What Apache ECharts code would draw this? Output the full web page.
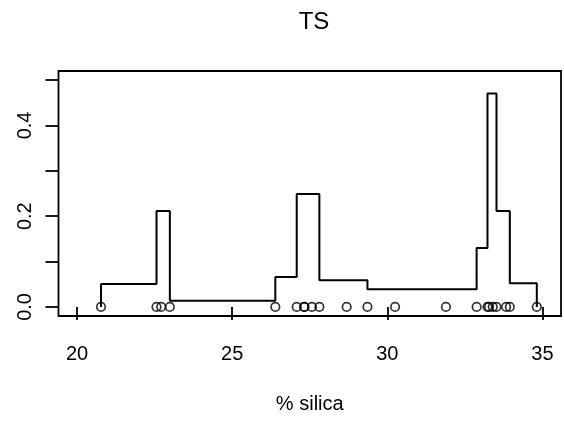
<!DOCTYPE html>
<html>
<head>
<meta charset="utf-8">
<script src="https://cdn.jsdelivr.net/npm/echarts@6/dist/echarts.min.js"></script>
<style>
html,body{margin:0;padding:0;background:#fff;}
#chart{width:564px;height:422px;}
</style>
</head>
<body>
<div id="chart"></div>
<script>
// Observations (% silica), drawn as open circles on y = 0
var silica = [20.77, 22.56, 22.71, 22.99, 26.39, 27.08, 27.32, 27.33, 27.57, 27.81, 28.69,
              29.36, 30.25, 31.89, 32.88, 33.23, 33.28, 33.40, 33.52, 33.83, 33.95, 34.82];
// Step-function breakpoints and the density level on each interval
var knots  = [20.77, 22.56, 22.99, 26.39, 27.08, 27.81, 29.36, 32.88, 33.23, 33.52, 33.95, 34.82];
var levels = [0.0508, 0.2114, 0.0134, 0.0659, 0.2491, 0.0587, 0.0387, 0.1299, 0.4702, 0.2114, 0.0523];
// Axis ticks and labels
var xTicks = [20, 25, 30, 35];
var yTicks = [0, 0.1, 0.2, 0.3, 0.4, 0.5];
var yLabels = [0, 0.2, 0.4];
var titleText = 'TS';
var xName = '% silica';

var stepData = [[knots[0], 0]];
for (var i = 0; i < levels.length; i++) {
  stepData.push([knots[i], levels[i]]);
  stepData.push([knots[i + 1], levels[i]]);
}
stepData.push([knots[knots.length - 1], 0]);

var pts = silica.map(function (v) { return [v, 0]; });

var FONT = 'Liberation Sans, Arial, Helvetica, sans-serif';
var chart = echarts.init(document.getElementById('chart'), null, {renderer: 'canvas'});
chart.setOption({
  animation: false,
  backgroundColor: '#fff',
  title: {
    text: titleText,
    left: 309, top: 5, textAlign: 'center',
    textStyle: {fontFamily: FONT, fontSize: 24, fontWeight: 'normal', color: '#000'}
  },
  grid: {
    left: 58.5, top: 71, width: 502.5, height: 245,
    show: true, borderColor: '#000', borderWidth: 1.8, backgroundColor: 'transparent'
  },
  xAxis: {
    type: 'value', min: 19.4, max: 35.6,
    name: xName, nameLocation: 'middle', nameGap: 78,
    nameTextStyle: {fontFamily: FONT, fontSize: 20, color: '#000'},
    axisLine: {show: false},
    splitLine: {show: false},
    axisTick: {show: true, length: 13, customValues: xTicks, lineStyle: {color: '#000', width: 1.8}},
    axisLabel: {show: true, customValues: xTicks, margin: 28,
      fontFamily: FONT, fontSize: 20, color: '#000'}
  },
  yAxis: {
    type: 'value', min: -0.02, max: 0.52,
    axisLine: {show: false},
    splitLine: {show: false},
    axisTick: {show: true, length: 13, customValues: yTicks, lineStyle: {color: '#000', width: 1.8}},
    axisLabel: {show: true, customValues: yLabels, rotate: 90, margin: 23,
      fontFamily: FONT, fontSize: 20, color: '#000',
      formatter: function (v) { return v.toFixed(1); }}
  },
  series: [
    {
      type: 'line', data: stepData, symbol: 'none', silent: true,
      lineStyle: {color: '#000', width: 2}, z: 2
    },
    {
      type: 'scatter', data: pts, symbol: 'circle', symbolSize: 8.5, silent: true,
      itemStyle: {color: 'rgba(0,0,0,0)', borderColor: '#000', borderWidth: 1.7}, z: 3
    }
  ]
});
</script>
</body>
</html>
